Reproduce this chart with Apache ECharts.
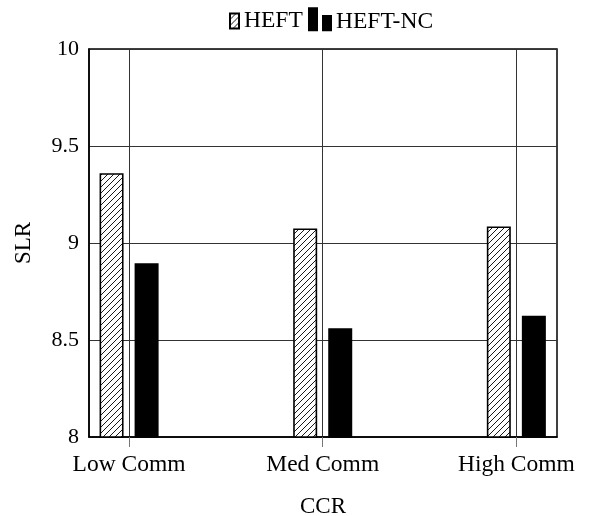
<!DOCTYPE html>
<html>
<head>
<meta charset="utf-8">
<script src="https://cdn.jsdelivr.net/npm/echarts@6/dist/echarts.min.js"></script>
<style>html,body{margin:0;padding:0;background:#fff}#c{width:595px;height:516px}</style>
</head>
<body>
<div id="c"></div>
<script>
const categories = ['Low Comm', 'Med Comm', 'High Comm'];
const heftValues = [9.36, 9.075, 9.085];
const heftNcValues = [8.895, 8.56, 8.625];
const yTicks = [8, 8.5, 9, 9.5, 10];

function hatch() {
  const s = 6;
  const cv = document.createElement('canvas');
  cv.width = s; cv.height = s;
  const ctx = cv.getContext('2d');
  ctx.fillStyle = '#fff';
  ctx.fillRect(0, 0, s, s);
  ctx.strokeStyle = '#000';
  ctx.lineWidth = 0.9;
  ctx.beginPath();
  ctx.moveTo(0, s); ctx.lineTo(s, 0);
  ctx.moveTo(-1, 1); ctx.lineTo(1, -1);
  ctx.moveTo(s - 1, s + 1); ctx.lineTo(s + 1, s - 1);
  ctx.stroke();
  return cv;
}
const pat = { image: hatch(), repeat: 'repeat' };
const font = 'Liberation Serif';
const chart = echarts.init(document.getElementById('c'), null, { renderer: 'canvas' });
const idx = categories.map((_, i) => i);
const legendText = { fontFamily: font, fontSize: 23.5, color: '#000' };
chart.setOption({
  animation: false,
  textStyle: { fontFamily: font },
  legend: [
    { top: 4, left: 224, itemWidth: 9, itemHeight: 15, icon: 'rect',
      textStyle: legendText, data: ['HEFT'] },
    { top: 2.3, left: 303, itemWidth: 22, itemHeight: 27,
      icon: 'path://M0,0h8v22h-8z M14,7.7h8v14.3h-8z M22,27',
      textStyle: legendText, data: ['HEFT-NC'] }
  ],
  grid: { left: 89, right: 38, top: 49, bottom: 79, outerBoundsMode: 'none', containLabel: false,
    show: true, borderColor: '#000', borderWidth: 1.5, backgroundColor: 'transparent' },
  xAxis: {
    type: 'value', min: -0.207, max: 2.21,
    name: 'CCR', nameLocation: 'middle', nameGap: 58,
    nameTextStyle: { fontFamily: font, fontSize: 23, color: '#000' },
    axisLine: { show: true, onZero: false, lineStyle: { color: '#000', width: 1.5 } },
    axisTick: { show: true, length: 10, inside: false, customValues: idx, lineStyle: { color: '#777' } },
    axisLabel: { customValues: idx, fontFamily: font, fontSize: 23.5, color: '#000', margin: 16,
      formatter: v => categories[Math.round(v)] },
    splitLine: { show: true, lineStyle: { color: '#333', width: 1 } }
  },
  yAxis: {
    type: 'value', min: 8, max: 10, interval: 0.5,
    name: 'SLR', nameLocation: 'middle', nameGap: 54, nameRotate: 90,
    nameTextStyle: { fontFamily: font, fontSize: 23, color: '#000' },
    axisLine: { show: true, onZero: false, lineStyle: { color: '#000', width: 1.5 } },
    axisTick: { show: false },
    axisLabel: { fontFamily: font, fontSize: 22, color: '#000', margin: 10 },
    splitLine: { show: true, lineStyle: { color: '#333', width: 1 } }
  },
  series: [
    { name: 'HEFT', type: 'bar', barWidth: 24, barGap: '46%',
      itemStyle: { color: pat, borderColor: '#000', borderWidth: 1.6 },
      data: heftValues.map((v, i) => [i, v]) },
    { name: 'HEFT-NC', type: 'bar', barWidth: 24, barGap: '46%',
      itemStyle: { color: '#000', borderColor: '#000', borderWidth: 1.6 },
      data: heftNcValues.map((v, i) => [i, v]) }
  ]
});
</script>
</body>
</html>
